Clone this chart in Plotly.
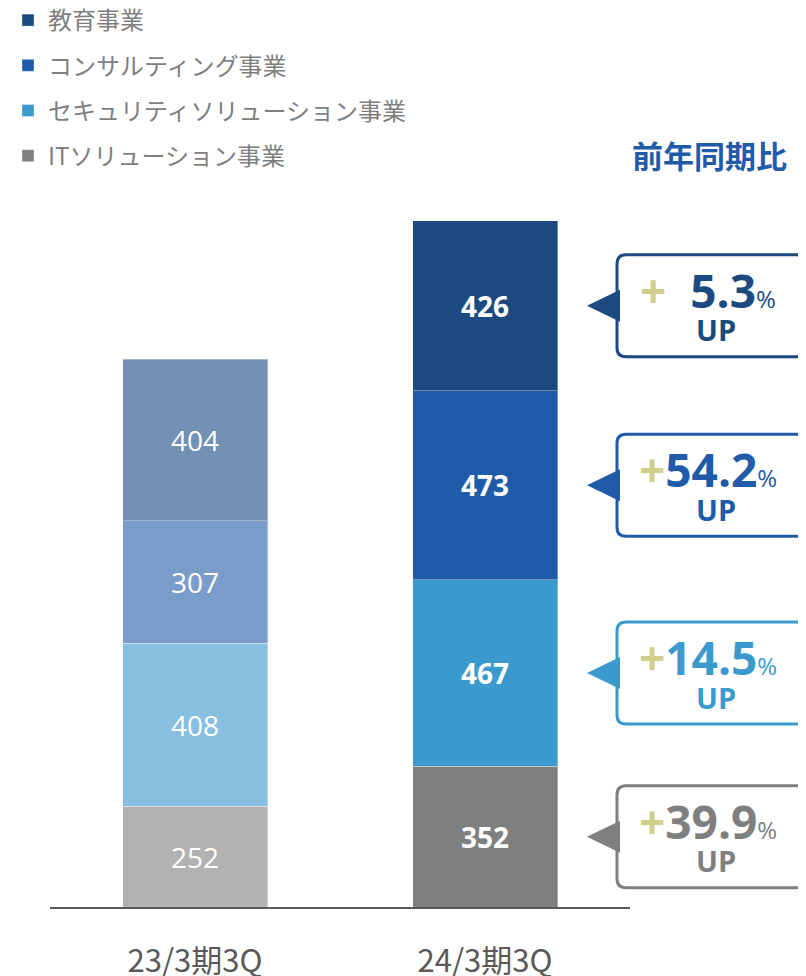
import plotly.graph_objects as go

# ---------------- data ----------------
periods = ["23/3期3Q", "24/3期3Q"]
segments = ["ITソリューション事業", "セキュリティソリューション事業", "コンサルティング事業", "教育事業"]  # bottom -> top
it_values = [252, 352]
security_values = [408, 467]
consulting_values = [307, 473]
education_values = [404, 426]
yoy_growth = ["39.9", "14.5", "54.2", "5.3"]  # per segment, bottom -> top
summary_title = "前年同期比"

# ---------------- style ----------------
prev_colors = ["#B2B2B2", "#86BFE0", "#7A9CCB", "#7490B5"]
curr_colors = ["#7F7F7F", "#3A9ACD", "#1F5BA8", "#1C4A80"]
plus_color = "#CFCF8C"
NUM_FONT = "Open Sans, Noto Sans, Noto Sans CJK JP"
JP_FONT = "Noto Sans CJK JP, Noto Sans"

OFF = 8                      # page body margin
W, H = 806 - OFF, 976 - OFF  # figure size
PLOT_L, PLOT_R = 50, 630           # screen px
PLOT_BOTTOM, PLOT_TOP = 907, 108   # screen px
Y_MAX = 2000
plot_h = PLOT_BOTTOM - PLOT_TOP
k = plot_h / Y_MAX  # px per unit


def px_x(p):
    return (p - OFF) / W


def px_y(p):
    return (H - (p - OFF)) / H


values = [it_values, security_values, consulting_values, education_values]

fig = go.Figure()
for i, (name, vals) in enumerate(zip(segments, values)):
    # list current period first so the legend swatch takes the current colour
    xs = periods[::-1]
    ys = vals[::-1]
    cols = [curr_colors[i], prev_colors[i]]
    fig.add_trace(go.Bar(
        x=xs, y=ys, name=name, legendgroup=name, legendrank=len(segments) - i,
        marker=dict(color=cols, line=dict(color="rgba(255,255,255,0.35)", width=1)),
        text=[f"<b>{ys[0]}</b>", f"{ys[1]}"],
        textposition="inside", insidetextanchor="middle", textangle=0,
        textfont=dict(family=NUM_FONT, size=28, color="white"),
        hoverinfo="skip",
    ))

shapes = []
annotations = []

# callouts for the current period (x in paper = full figure, y in data)
x_box_l = px_x(617)
x_box_r = px_x(805)
x_tip = px_x(587)
x_base = px_x(620)
rx = 9 / W
ry = 9 / k
half_h = 51 / k
arrow_half = 16 / k
x_text = px_x(708)
x_up = px_x(716)

cum = 0
for i, vals in enumerate(values):
    v = vals[1]
    mid = cum + v / 2
    cum += v
    c = curr_colors[i]
    top = mid + half_h
    bot = mid - half_h
    path = (f"M {x_box_l + rx} {top} L {x_box_r - rx} {top} Q {x_box_r} {top} {x_box_r} {top - ry} "
            f"L {x_box_r} {bot + ry} Q {x_box_r} {bot} {x_box_r - rx} {bot} "
            f"L {x_box_l + rx} {bot} Q {x_box_l} {bot} {x_box_l} {bot + ry} "
            f"L {x_box_l} {top - ry} Q {x_box_l} {top} {x_box_l + rx} {top} Z")
    shapes.append(dict(type="path", xref="paper", yref="y", path=path,
                       line=dict(color=c, width=3), fillcolor="white", layer="above"))
    tri = f"M {x_tip} {mid} L {x_base} {mid + arrow_half} L {x_base} {mid - arrow_half} Z"
    shapes.append(dict(type="path", xref="paper", yref="y", path=tri,
                       line=dict(color=c, width=0), fillcolor=c, layer="above"))
    g = yoy_growth[i]
    pad = "&nbsp;&nbsp;" if len(g) < 4 else ""
    line1 = (f'<span style="color:{plus_color};font-size:46px"><b>+</b></span>{pad}'
             f'<b>{g}</b><span style="font-size:24px">%</span>')
    annotations.append(dict(xref="paper", yref="y", x=x_text, y=mid + 16 / k,
                            text=line1, showarrow=False, xanchor="center", yanchor="middle",
                            font=dict(family=NUM_FONT, size=46, color=c)))
    annotations.append(dict(xref="paper", yref="y", x=x_up, y=mid - 24 / k,
                            text="<b>UP</b>", showarrow=False, xanchor="center", yanchor="middle",
                            font=dict(family=NUM_FONT, size=29, color=c)))

annotations.append(dict(xref="paper", yref="paper", x=px_x(709), y=px_y(155),
                        text=f"<b>{summary_title}</b>",
                        showarrow=False, xanchor="center", yanchor="middle",
                        font=dict(family=JP_FONT, size=31, color="#1F5BA8")))

fig.update_layout(
    width=W, height=H,
    margin=dict(l=0, r=0, t=0, b=0, autoexpand=False),
    barmode="stack", bargap=0.5,
    plot_bgcolor="white", paper_bgcolor="white",
    showlegend=True,
    legend=dict(x=0.0, y=1.0 + 10 / H, xanchor="left", yanchor="top",
                orientation="v", traceorder="grouped", tracegroupgap=11,
                font=dict(family=JP_FONT, size=24, color="#7F7F7F"),
                bgcolor="rgba(0,0,0,0)"),
    xaxis=dict(domain=[px_x(PLOT_L), px_x(PLOT_R)], categoryorder="array", categoryarray=periods,
               showline=True, linecolor="#595959", linewidth=2, ticks="", showgrid=False,
               zeroline=False, tickangle=0,
               tickfont=dict(family=JP_FONT, size=31, color="#595959"), ticklabelstandoff=26,
               fixedrange=True),
    yaxis=dict(domain=[px_y(PLOT_BOTTOM), px_y(PLOT_TOP)], range=[0, Y_MAX], visible=False,
               showgrid=False, zeroline=False, fixedrange=True),
    shapes=shapes, annotations=annotations,
)

fig.write_html("out.html")
